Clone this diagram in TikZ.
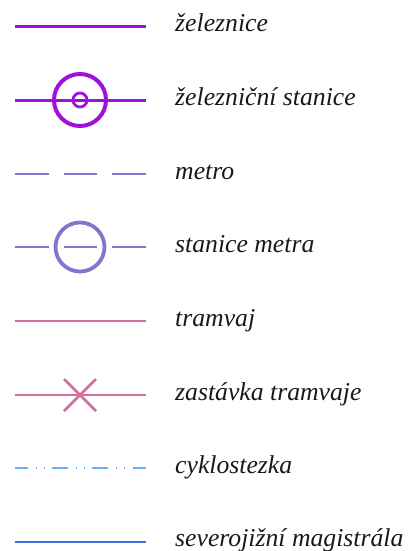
\documentclass[tikz,border=0pt]{standalone}
\usepackage{fontspec}
\usetikzlibrary{calc}
\setmainfont{Liberation Serif}
\definecolor{rail}{HTML}{9F10DC}
\definecolor{metro}{HTML}{8078CF}
\definecolor{tram}{HTML}{D06FA2}
\definecolor{bike}{HTML}{6AAEFF}
\definecolor{magi}{HTML}{3F6FE0}
\begin{document}
\begin{tikzpicture}[x=1pt,y=-1pt,
  lbl/.style={anchor=base west,inner sep=0pt,font=\fontsize{25.7}{30}\selectfont\itshape,text=black!90},
  railln/.style={draw=rail,line width=3pt},
  metroln/.style={draw=metro,line width=2.4pt,dash pattern=on 33.5pt off 15pt},
  tramln/.style={draw=tram,line width=2.4pt},
  bikeln/.style={draw=bike,line width=2pt,dash pattern=on 16pt off 7.5pt on 1.2pt off 7pt on 1.2pt off 7.3pt,dash phase=3pt},
  magiln/.style={draw=magi,line width=2.8pt}]
\useasboundingbox (0,0) rectangle (408,551);
% rows
\foreach \n/\y in {a/27,b/100,c/174,d/247,e/321,f/395,g/468,h/542}{
  \coordinate (\n1) at (15,\y);
  \coordinate (\n2) at (146,\y);
  \coordinate (\n0) at (80,\y);
}
\draw[railln] (a1) -- (a2);
\draw[railln] (b1) -- (b2);
\draw[draw=rail,line width=4pt] (b0) circle[radius=26];
\draw[draw=rail,line width=2.8pt] (b0) circle[radius=7];
\draw[metroln] (c1) -- (c2);
\draw[metroln] (d1) -- (d2);
\draw[draw=metro,line width=3.8pt] (d0) circle[radius=24.5];
\draw[tramln] (e1) -- (e2);
\draw[tramln] (f1) -- (f2);
\draw[draw=tram,line width=2.6pt] ($(f0)+(-16,-16)$) -- ($(f0)+(16,16)$) ($(f0)+(-16,16)$) -- ($(f0)+(16,-16)$);
\draw[bikeln] (g1) -- (g2);
\draw[magiln] (h1) -- (h2);
\node[lbl] (ta) at (175,32) {železnice};
\node[lbl] (tb) at (175,105.5) {železniční stanice};
\node[lbl] (tc) at (175,179.5) {metro};
\node[lbl] (td) at (175,252.5) {stanice metra};
\node[lbl] (te) at (175,326.5) {tramvaj};
\node[lbl] (tf) at (175,400.5) {zastávka tramvaje};
\node[lbl] (tg) at (175,473.5) {cyklostezka};
\node[lbl] (th) at (175,546.5) {severojižní magistrála};
\end{tikzpicture}
\end{document}
